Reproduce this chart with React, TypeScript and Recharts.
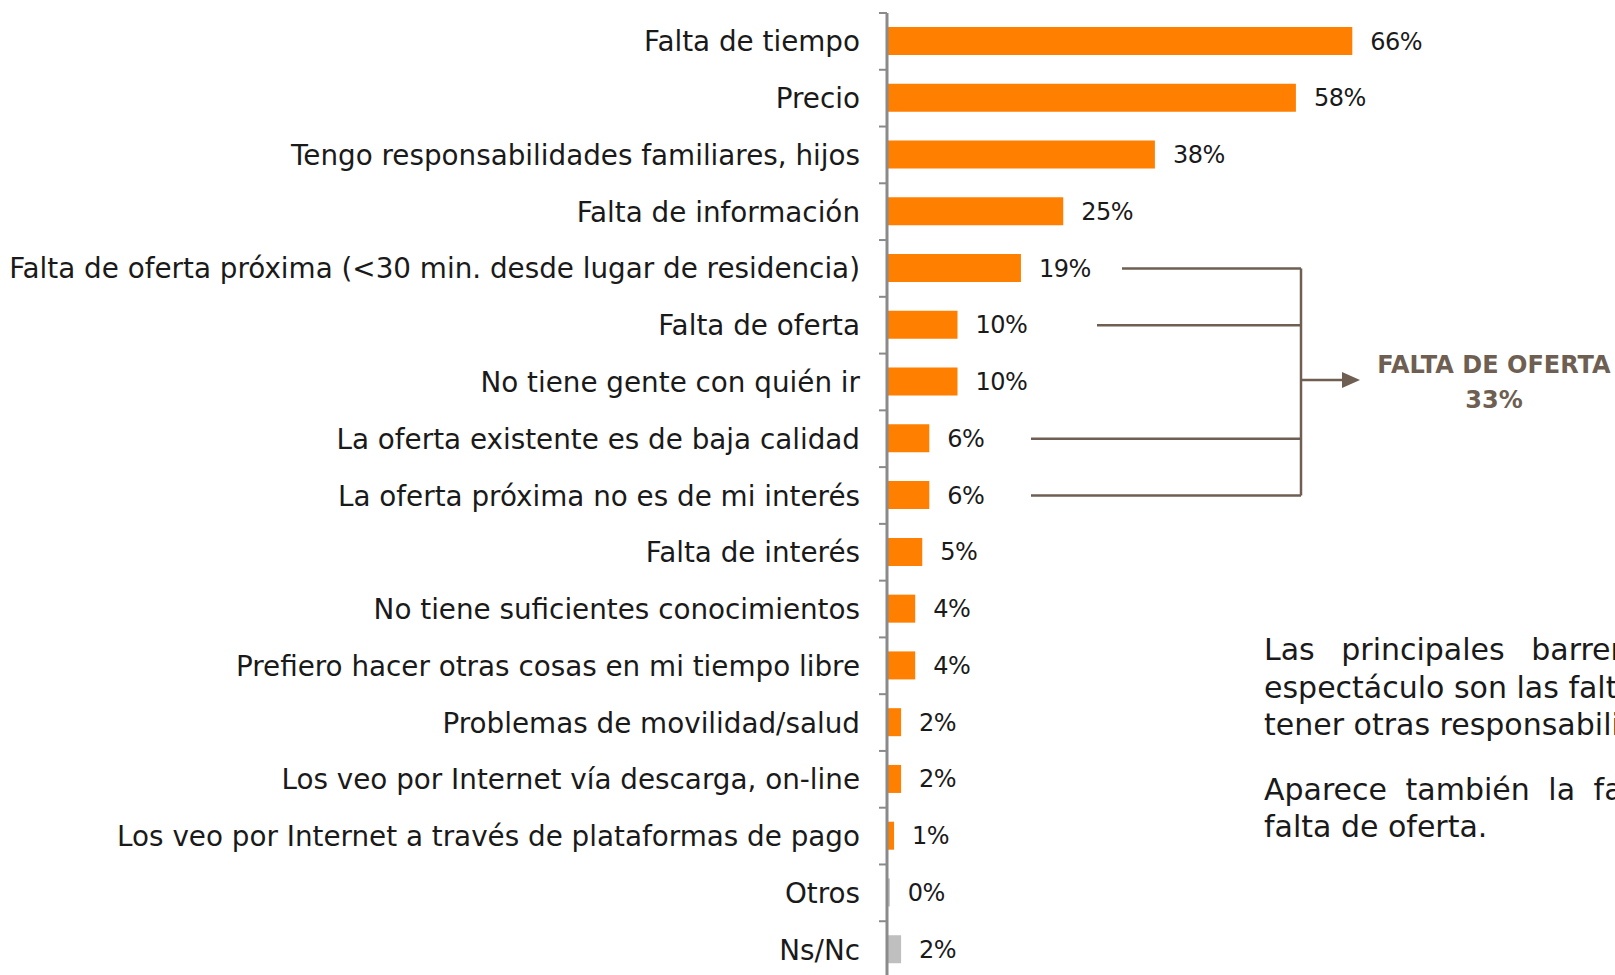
import { BarChart, Bar, XAxis, YAxis, Cell, LabelList } from 'recharts';

const categories = [
  'Falta de tiempo',
  'Precio',
  'Tengo responsabilidades familiares, hijos',
  'Falta de información',
  'Falta de oferta próxima (<30 min. desde lugar de residencia)',
  'Falta de oferta',
  'No tiene gente con quién ir',
  'La oferta existente es de baja calidad',
  'La oferta próxima no es de mi interés',
  'Falta de interés',
  'No tiene suficientes conocimientos',
  'Prefiero hacer otras cosas en mi tiempo libre',
  'Problemas de movilidad/salud',
  'Los veo por Internet vía descarga, on-line',
  'Los veo por Internet a través de plataformas de pago',
  'Otros',
  'Ns/Nc'
];
const values = [66, 58, 38, 25, 19, 10, 10, 6, 6, 5, 4, 4, 2, 2, 1, 0.4, 2];
const valueLabels = ['66%', '58%', '38%', '25%', '19%', '10%', '10%', '6%', '6%', '5%', '4%', '4%', '2%', '2%', '1%', '0%', '2%'];
const greyCategories = ['Otros', 'Ns/Nc'];

// rows that feed the "falta de oferta" bracket, and where each connector starts
const bracketRows = [4, 5, 7, 8];
const bracketStarts = [1122, 1097, 1031, 1031];
const bracketTotal = '33%';

const paragraphLines = [
  { text: 'Las principales barreras para', spacing: 17, gap: 0 },
  { text: 'espectáculo son las faltas de tiempo,', spacing: 0, gap: 0 },
  { text: 'tener otras responsabilidades.', spacing: 0, gap: 0 },
  { text: 'Aparece también la falta', spacing: 9, gap: 27 },
  { text: 'falta de oferta.', spacing: 0, gap: 0 }
];

const data = categories.map((name, i) => ({ name, value: values[i], label: valueLabels[i] }));

const W = 1615;
const H = 978;
const TOP = 13;
const Y_AXIS_W = 887;
const RIGHT = 23;
const TICK = 8;
const TICK_GAP = 19;
const FONT = '"DejaVu Sans", sans-serif';
const BROWN = '#6e5f52';
const AXIS = '#8a8a8a';

const band = (H - TOP) / categories.length;

// category label at the row centre, tick marks on the row boundaries
function CategoryTick(props: any) {
  const { x, y, payload, index } = props;
  const lx = x + TICK_GAP;
  const top = y - band / 2;
  return (
    <g>
      <line x1={lx} x2={lx + TICK} y1={top} y2={top} stroke={AXIS} strokeWidth={2} />
      {index === categories.length - 1 && (
        <line x1={lx} x2={lx + TICK} y1={y + band / 2} y2={y + band / 2} stroke={AXIS} strokeWidth={2} />
      )}
      <text
        x={x}
        y={y}
        dy="0.36em"
        textAnchor="end"
        fontSize={27.8}
        fontFamily={FONT}
        fill="#1a1a1a"
      >
        {payload.value}
      </text>
    </g>
  );
}

export default function App() {
  const rowY = (i: number) => TOP + (i + 0.5) * band;
  const bx = 1301;
  const ys = bracketRows.map(rowY);
  const arrowY = rowY(6) - 2;

  return (
    <div
      style={{
        position: 'fixed',
        top: 0,
        left: 0,
        width: W,
        height: 975,
        overflow: 'hidden',
        background: '#fff',
        fontFamily: FONT
      }}
    >
      <BarChart
        width={W}
        height={H}
        data={data}
        layout="vertical"
        margin={{ top: TOP, right: RIGHT, bottom: 0, left: 0 }}
        barCategoryGap={0}
      >
        <XAxis type="number" domain={[0, 100]} hide />
        <YAxis
          type="category"
          dataKey="name"
          width={Y_AXIS_W}
          interval={0}
          tickSize={TICK}
          tickMargin={TICK_GAP}
          axisLine={{ stroke: AXIS, strokeWidth: 3 }}
          tickLine={false}
          tick={<CategoryTick />}
        />
        <Bar dataKey="value" barSize={28} isAnimationActive={false}>
          {data.map((d) => (
            <Cell key={d.name} fill={greyCategories.includes(d.name) ? '#bfbfbf' : '#ff7f00'} />
          ))}
          <LabelList
            dataKey="label"
            position="right"
            offset={18}
            style={{ fontSize: 24, fill: '#1a1a1a', fontFamily: FONT, letterSpacing: -0.5 }}
          />
        </Bar>
      </BarChart>

      <svg
        width={W}
        height={975}
        style={{ position: 'absolute', top: 0, left: 0, pointerEvents: 'none' }}
      >
        {ys.map((y, i) => (
          <line key={i} x1={bracketStarts[i]} x2={bx} y1={y} y2={y} stroke={BROWN} strokeWidth={2.5} />
        ))}
        <line x1={bx} x2={bx} y1={ys[0]} y2={ys[ys.length - 1]} stroke={BROWN} strokeWidth={2.5} />
        <line x1={bx} x2={1345} y1={arrowY} y2={arrowY} stroke={BROWN} strokeWidth={2.5} />
        <polygon
          points={`1342,${arrowY - 8} 1360,${arrowY} 1342,${arrowY + 8}`}
          fill={BROWN}
        />
        <text
          x={1494}
          y={365}
          textAnchor="middle"
          dominantBaseline="central"
          fontFamily={FONT}
          fontWeight="bold"
          fontSize={24}
          fill={BROWN}
        >
          FALTA DE OFERTA
        </text>
        <text
          x={1494}
          y={400}
          textAnchor="middle"
          dominantBaseline="central"
          fontFamily={FONT}
          fontWeight="bold"
          fontSize={24}
          fill={BROWN}
        >
          {bracketTotal}
        </text>
      </svg>

      <div
        style={{
          position: 'absolute',
          left: 1264,
          top: 631,
          fontSize: 30,
          lineHeight: '37.6px',
          color: '#1a1a1a',
          whiteSpace: 'nowrap'
        }}
      >
        {paragraphLines.map((l, i) => (
          <div key={i} style={{ wordSpacing: l.spacing, marginTop: l.gap }}>
            {l.text}
          </div>
        ))}
      </div>
    </div>
  );
}
